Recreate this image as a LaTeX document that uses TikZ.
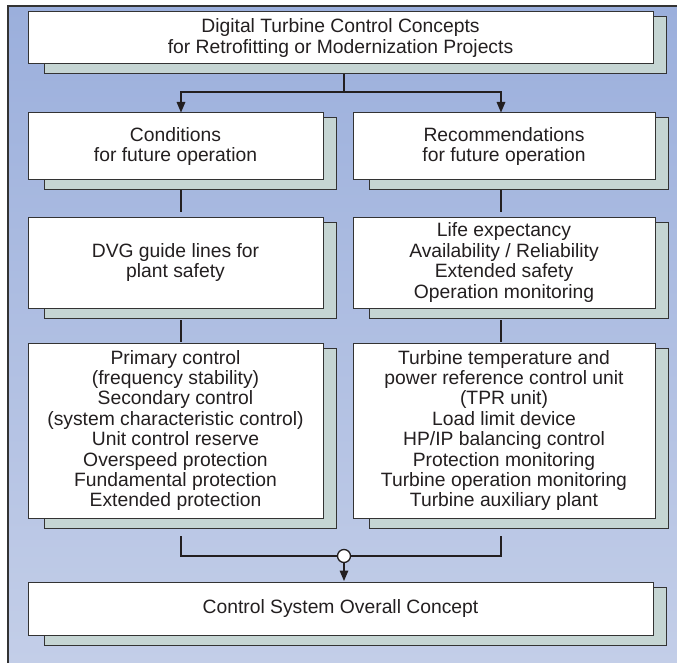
\documentclass[tikz,border=0pt]{standalone}
\usepackage{fontspec}
\setmainfont{Liberation Sans}
\usetikzlibrary{arrows.meta,calc}
\definecolor{bgtop}{HTML}{9BAFDC}
\definecolor{bgbot}{HTML}{C3CEE8}
\definecolor{shfill}{HTML}{C5D5D3}
\definecolor{edge}{HTML}{333333}
\definecolor{ink}{HTML}{231F20}
\tikzset{
  box/.style={draw=edge, line width=1pt, fill=white, text=ink, align=center,
    inner sep=0pt, font=\fontsize{19.3}{20.4}\selectfont},
  shadowbox/.style={draw=edge, line width=1pt, fill=shfill},
  conn/.style={draw=ink, line width=2.8pt},
  arr/.style={conn, -{Triangle[length=11pt,width=8pt]}},
}
% \mybox{name}{x1}{y1}{x2}{y2}{text}
\newcommand{\mybox}[6]{%
  \draw[shadowbox] ({#2+16.5},{#3+5}) rectangle ({#4+13},{#5+10});
  \node[box, minimum width={#4-#2}, minimum height={#5-#3}] (#1) at ({(#2+#4)/2},{(#3+#5)/2}) {#6};
}
\begin{document}
\begin{tikzpicture}[x=1pt,y=-1pt]
\useasboundingbox (0,0) rectangle (677,663);
\shade[top color=bgtop, bottom color=bgbot] (8,6) rectangle (677,663);
\draw[edge, line width=1.3pt] (677,6) -- (8,6) -- (8,663);
\coordinate (j1) at (344,92);
% connectors (behind boxes)
\draw[conn] (344,60) -- (j1);
\draw[arr, line join=miter] (j1) -| (181,113);
\draw[arr, line join=miter] (j1) -| (501,113);
\draw[conn] (181,190) -- (181,212);
\draw[conn] (501,190) -- (501,212);
\draw[conn] (181,320) -- (181,342);
\draw[conn] (501,320) -- (501,342);
\coordinate (j2) at (344,556);
\draw[conn, line join=miter] (181,536) -- (181,556) -- (501,556) -- (501,536);
% boxes
\mybox{top}{28}{12}{653}{64}{Digital Turbine Control Concepts\\for Retrofitting or Modernization Projects}
\mybox{cond}{28}{113}{323}{180}{Conditions\\for future operation}
\mybox{rec}{353}{113}{655}{180}{Recommendations\\for future operation}
\mybox{dvg}{28}{217}{323}{308}{DVG guide lines for\\plant safety}
\mybox{life}{353}{217}{655}{308}{Life expectancy\\Availability / Reliability\\Extended safety\\Operation monitoring}
\mybox{prim}{28}{343}{323}{518}{Primary control\\(frequency stability)\\Secondary control\\(system characteristic control)\\Unit control reserve\\Overspeed protection\\Fundamental protection\\Extended protection}
\mybox{turb}{353}{343}{655}{518}{Turbine temperature and\\power reference control unit\\(TPR unit)\\Load limit device\\HP/IP balancing control\\Protection monitoring\\Turbine operation monitoring\\Turbine auxiliary plant}
\mybox{bot}{28}{582}{653}{635}{Control System Overall Concept}
\node[circle, draw=ink, line width=1.3pt, fill=white, minimum size=13pt, inner sep=0pt] (c) at (j2) {};
\draw[arr] (c.south) -- (c.south |- bot.north);
\end{tikzpicture}
\end{document}
